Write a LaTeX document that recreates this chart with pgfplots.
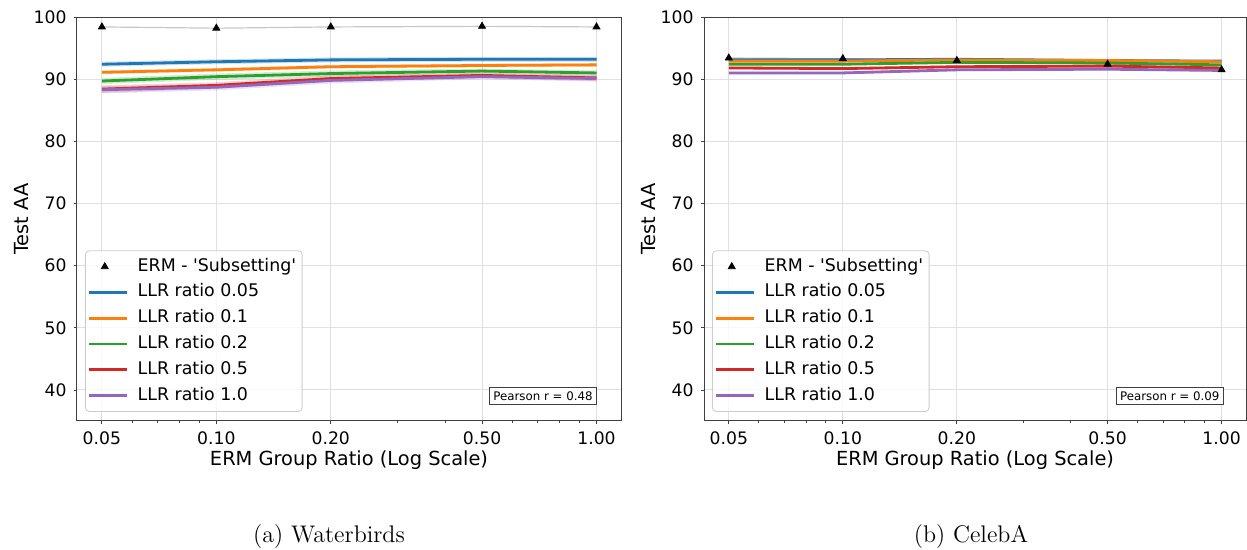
\documentclass[border=0pt]{standalone}
\usepackage{fontspec}
\usepackage{pgfplots}
\pgfplotsset{compat=1.18}
\newfontfamily\dejavu{DejaVu Sans}
\definecolor{tabblue}{HTML}{1F77B4}
\definecolor{taborange}{HTML}{FF7F0E}
\definecolor{tabgreen}{HTML}{2CA02C}
\definecolor{tabred}{HTML}{D62728}
\definecolor{tabpurple}{HTML}{9467BD}

\pgfplotsset{
  every axis/.append style={
    scale only axis, height=202pt, anchor=south west,
    xmin=0.043, xmax=1.16, ymin=35, ymax=100,
    xtick={0.05,0.1,0.2,0.5,1},
    xticklabels={0.05,0.10,0.20,0.50,1.00},
    minor xtick={0.06,0.07,0.08,0.09,0.3,0.4,0.6,0.7,0.8,0.9},
    ytick={40,50,60,70,80,90,100},
    grid=major, major grid style={black!12, line width=0.5pt},
    axis line style={black!75, line width=0.5pt},
    tick align=outside, major tick length=1.7pt, minor tick length=1pt,
    every tick/.style={black!75, line width=0.4pt},
    xtick pos=left, ytick pos=left,
    /pgf/number format/assume math mode=true,
    tick label style={font=\dejavu\fontsize{8.6}{10}\selectfont},
    xlabel={ERM Group Ratio (Log Scale)}, ylabel={Test AA},
    every axis x label/.style={at={(axis description cs:0.5,0)}, yshift=-19.5pt, anchor=center,
      font=\dejavu\fontsize{9.7}{11}\selectfont},
    every axis y label/.style={at={(axis description cs:0,0.5)}, xshift=-27.5pt, rotate=90, anchor=center,
      font=\dejavu\fontsize{9.7}{11}\selectfont},
    legend cell align=left,
    legend style={at={(0.0147,0.0223)}, anchor=south west,
      draw=black!20, rounded corners=2pt, fill=white, fill opacity=0.8,
      text opacity=1,
      font=\dejavu\fontsize{8.7}{10}\selectfont,
      inner xsep=1pt, inner ysep=1.5pt, row sep=0pt, column sep=2.75pt,
      nodes={text height=6.5pt, text depth=2pt, inner xsep=2pt, inner ysep=2.2pt}},
  },
  linelegend/.style={legend image code/.code={\draw[##1, draw opacity=1] (0pt,0pt) -- (19pt,0pt);}},
  marklegend/.style={legend image code/.code={\path (0pt,0pt) (19pt,0pt);
    \draw[sharp corners, ##1, opacity=1] plot coordinates {(8pt,0pt)};}},
  llr/.style={#1, line width=1.4pt, linelegend},
  band/.style={draw=none, fill=#1, fill opacity=0.2, forget plot},
  erm/.style={only marks, mark=triangle*, mark size=2pt, black, marklegend},
}

\begin{document}
\begin{tikzpicture}
% (a) Waterbirds
\begin{semilogxaxis}[width=272pt, at={(0pt,0pt)}]
\addplot[black!22, line width=0.6pt, forget plot]
  coordinates {(0.05,98.4)(0.1,98.2)(0.2,98.4)(0.5,98.5)(1,98.4)};
\addplot[erm] coordinates {(0.05,98.4)(0.1,98.2)(0.2,98.4)(0.5,98.5)(1,98.4)};
\addlegendentry{ERM - 'Subsetting'}
% bands
\addplot[band=tabblue] coordinates {(0.05,92.8)(0.1,93.2)(0.2,93.5)(0.5,93.6)(1,93.6)
  (1,92.8)(0.5,92.8)(0.2,92.7)(0.1,92.4)(0.05,92.0)(0.05,92.8)};
\addplot[band=taborange] coordinates {(0.05,91.4)(0.1,91.8)(0.2,92.3)(0.5,92.5)(1,92.6)
  (1,92.0)(0.5,91.9)(0.2,91.7)(0.1,91.2)(0.05,90.8)(0.05,91.4)};
\addplot[band=tabgreen] coordinates {(0.05,90.2)(0.1,90.9)(0.2,91.4)(0.5,91.7)(1,91.4)
  (1,90.6)(0.5,90.9)(0.2,90.4)(0.1,89.9)(0.05,89.2)(0.05,90.2)};
\addplot[band=tabred] coordinates {(0.05,89.0)(0.1,89.5)(0.2,90.6)(0.5,91.0)(1,90.7)
  (1,89.7)(0.5,90.2)(0.2,89.6)(0.1,88.5)(0.05,87.8)(0.05,89.0)};
\addplot[band=tabpurple] coordinates {(0.05,88.9)(0.1,89.2)(0.2,90.3)(0.5,90.8)(1,90.6)
  (1,89.6)(0.5,90.0)(0.2,89.3)(0.1,88.2)(0.05,87.7)(0.05,88.9)};
% lines
\addplot[llr=tabblue] coordinates {(0.05,92.4)(0.1,92.8)(0.2,93.1)(0.5,93.2)(1,93.2)};
\addlegendentry{LLR ratio 0.05}
\addplot[llr=taborange] coordinates {(0.05,91.1)(0.1,91.5)(0.2,92.0)(0.5,92.2)(1,92.3)};
\addlegendentry{LLR ratio 0.1}
\addplot[llr=tabgreen] coordinates {(0.05,89.7)(0.1,90.4)(0.2,90.9)(0.5,91.3)(1,91.0)};
\addlegendentry{LLR ratio 0.2}
\addplot[llr=tabred] coordinates {(0.05,88.4)(0.1,89.0)(0.2,90.1)(0.5,90.6)(1,90.2)};
\addlegendentry{LLR ratio 0.5}
\addplot[llr=tabpurple] coordinates {(0.05,88.3)(0.1,88.7)(0.2,89.8)(0.5,90.4)(1,90.1)};
\addlegendentry{LLR ratio 1.0}
\node[draw=black!75, fill=white, line width=0.5pt, inner xsep=2pt, inner ysep=2pt,
  anchor=south east, font=\dejavu\fontsize{5.9}{7}\selectfont]
  at (rel axis cs:0.956,0.04) {Pearson r = 0.48};
\end{semilogxaxis}

% (b) CelebA
\begin{semilogxaxis}[width=271pt, at={(313.5pt,0pt)}]
\addplot[black!22, line width=0.6pt, forget plot]
  coordinates {(0.05,93.4)(0.1,93.3)(0.2,93.0)(0.5,92.4)(1,91.5)};
\addplot[erm] coordinates {(0.05,93.4)(0.1,93.3)(0.2,93.0)(0.5,92.4)(1,91.5)};
\addlegendentry{ERM - 'Subsetting'}
\addplot[band=tabblue] coordinates {(0.05,93.3)(0.1,93.3)(0.2,93.4)(0.5,93.2)(1,93.1)
  (1,92.7)(0.5,92.8)(0.2,93.0)(0.1,92.9)(0.05,92.9)(0.05,93.3)};
\addplot[band=taborange] coordinates {(0.05,93.1)(0.1,93.1)(0.2,93.3)(0.5,93.2)(1,93.0)
  (1,92.6)(0.5,92.8)(0.2,92.9)(0.1,92.7)(0.05,92.7)(0.05,93.1)};
\addplot[band=tabgreen] coordinates {(0.05,92.6)(0.1,92.6)(0.2,92.9)(0.5,92.8)(1,92.5)
  (1,92.1)(0.5,92.4)(0.2,92.5)(0.1,92.2)(0.05,92.2)(0.05,92.6)};
\addplot[band=tabred] coordinates {(0.05,92.0)(0.1,91.9)(0.2,92.2)(0.5,92.3)(1,92.0)
  (1,91.6)(0.5,91.9)(0.2,91.8)(0.1,91.5)(0.05,91.6)(0.05,92.0)};
\addplot[band=tabpurple] coordinates {(0.05,91.2)(0.1,91.2)(0.2,91.7)(0.5,91.8)(1,91.6)
  (1,91.2)(0.5,91.4)(0.2,91.3)(0.1,90.8)(0.05,90.8)(0.05,91.2)};
\addplot[llr=tabblue] coordinates {(0.05,93.1)(0.1,93.1)(0.2,93.2)(0.5,93.0)(1,92.9)};
\addlegendentry{LLR ratio 0.05}
\addplot[llr=taborange] coordinates {(0.05,92.9)(0.1,92.9)(0.2,93.1)(0.5,93.0)(1,92.8)};
\addlegendentry{LLR ratio 0.1}
\addplot[llr=tabgreen] coordinates {(0.05,92.4)(0.1,92.4)(0.2,92.7)(0.5,92.6)(1,92.3)};
\addlegendentry{LLR ratio 0.2}
\addplot[llr=tabred] coordinates {(0.05,91.8)(0.1,91.7)(0.2,92.0)(0.5,92.1)(1,91.8)};
\addlegendentry{LLR ratio 0.5}
\addplot[llr=tabpurple] coordinates {(0.05,91.0)(0.1,91.0)(0.2,91.5)(0.5,91.6)(1,91.4)};
\addlegendentry{LLR ratio 1.0}
\node[draw=black!75, fill=white, line width=0.5pt, inner xsep=2pt, inner ysep=2pt,
  anchor=south east, font=\dejavu\fontsize{5.9}{7}\selectfont]
  at (rel axis cs:0.959,0.04) {Pearson r = 0.09};
\end{semilogxaxis}

\node[font=\fontsize{12}{14}\selectfont] at (126pt,-58pt) {(a) Waterbirds};
\node[font=\fontsize{12}{14}\selectfont] at (447pt,-58pt) {(b) CelebA};
\pgfresetboundingbox
\useasboundingbox (-38.5pt,-64.5pt) rectangle (585pt,210.5pt);
\end{tikzpicture}
\end{document}
